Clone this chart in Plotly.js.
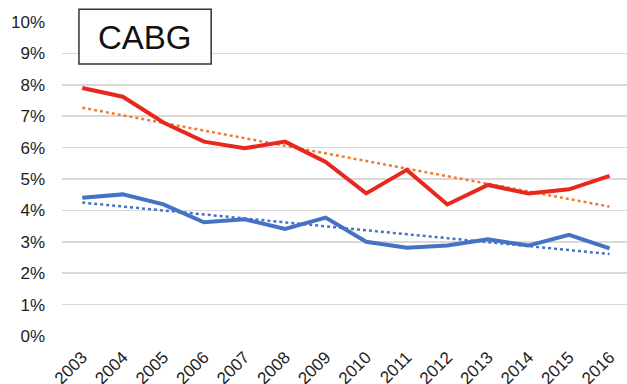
<!DOCTYPE html>
<html>
<head>
<meta charset="utf-8">
<script src="https://cdn.plot.ly/plotly-3.0.1.min.js"></script>
<style>html,body{margin:0;padding:0;background:#fff;}#chart{width:627px;height:384px;}</style>
</head>
<body>
<div id="chart"></div>
<script>
const years = ['2003','2004','2005','2006','2007','2008','2009','2010','2011','2012','2013','2014','2015','2016'];
const redSeries = [7.9, 7.62, 6.8, 6.19, 5.98, 6.19, 5.54, 4.54, 5.29, 4.19, 4.81, 4.54, 4.67, 5.1];
const blueSeries = [4.4, 4.51, 4.19, 3.62, 3.72, 3.41, 3.77, 3.0, 2.81, 2.88, 3.08, 2.88, 3.22, 2.79];
const trendYears = ['2003', '2016'];
const redTrend = [7.27, 4.12];
const blueTrend = [4.25, 2.61];
const yTicks = [0,1,2,3,4,5,6,7,8,9,10];
const boxLabel = 'CABG';

const traces = [
  {x: trendYears, y: redTrend, mode: 'lines', line: {color: '#ED7D31', width: 2.5, dash: 'dot'}, hoverinfo: 'skip'},
  {x: trendYears, y: blueTrend, mode: 'lines', line: {color: '#4472C4', width: 2.5, dash: 'dot'}, hoverinfo: 'skip'},
  {x: years, y: redSeries, mode: 'lines', line: {color: '#E8281E', width: 4}},
  {x: years, y: blueSeries, mode: 'lines', line: {color: '#4472C4', width: 4}}
];

const layout = {
  width: 627, height: 384,
  margin: {l: 62, r: 0, t: 22, b: 48},
  paper_bgcolor: '#fff', plot_bgcolor: '#fff',
  showlegend: false,
  font: {family: 'Liberation Sans, Arial, sans-serif', color: '#222'},
  xaxis: {
    type: 'category', categoryarray: years, categoryorder: 'array',
    range: [-0.5, 13.43],
    tickangle: -45, tickfont: {size: 17, color: '#222'},
    showgrid: false, zeroline: false, showline: false, ticks: '', ticklabelstandoff: 7
  },
  yaxis: {
    range: [0, 10], tickvals: yTicks, ticktext: yTicks.map(v => v + '%'),
    tickfont: {size: 17, color: '#222'},
    showgrid: true, gridcolor: '#d9d9d9', gridwidth: 1.5,
    zeroline: false, showline: false, ticks: '', ticklabelstandoff: 16
  },
  shapes: [
    {type: 'rect', xref: 'paper', yref: 'paper', x0: 0.030, x1: 0.264, y0: 0.866, y1: 1.041,
     line: {color: '#333', width: 1.5}, fillcolor: '#fff', layer: 'above'}
  ],
  annotations: [
    {xref: 'paper', yref: 'paper', x: 0.147, y: 0.952, text: boxLabel, showarrow: false,
     font: {size: 33, color: '#111', family: 'Liberation Sans, Arial, sans-serif'}, xanchor: 'center', yanchor: 'middle'}
  ]
};

Plotly.newPlot('chart', traces, layout, {displayModeBar: false, staticPlot: true});
</script>
</body>
</html>
